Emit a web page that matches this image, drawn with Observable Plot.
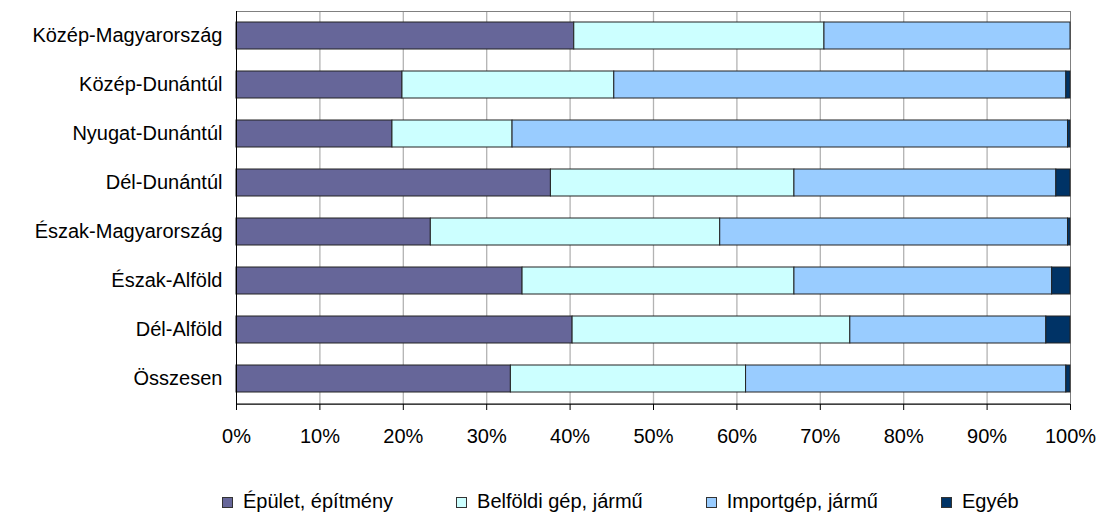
<!DOCTYPE html>
<html><head><meta charset="utf-8">
<script src="https://cdn.jsdelivr.net/npm/d3@7"></script>
<script src="https://cdn.jsdelivr.net/npm/@observablehq/plot@0.6"></script>
<style>
body{margin:0;background:#fff;font-family:"Liberation Sans",Arial,sans-serif;}
#legend{display:flex;gap:63px;padding-left:222px;padding-top:31px;height:52px;box-sizing:border-box;font-size:20px;line-height:20px;color:#000;white-space:nowrap}
.sw{display:inline-block;width:9px;height:9px;border:1px solid #333;margin-right:10px;vertical-align:baseline}
</style></head><body>
<div id="chart"></div><div id="legend"></div>
<script>
const regions = ["Közép-Magyarország","Közép-Dunántúl","Nyugat-Dunántúl","Dél-Dunántúl","Észak-Magyarország","Észak-Alföld","Dél-Alföld","Összesen"];
const seriesNames = ["Épület, építmény","Belföldi gép, jármű","Importgép, jármű","Egyéb"];
const epulet    = [40.5, 19.9, 18.7, 37.7, 23.3, 34.3, 40.3, 32.9];
const belfoldi  = [30.0, 25.4, 14.4, 29.2, 34.7, 32.6, 33.3, 28.2];
const importgep = [29.5, 54.2, 66.6, 31.4, 41.7, 30.9, 23.5, 38.4];
const egyeb     = [0.0,  0.5,  0.3,  1.7,  0.3,  2.2,  2.9,  0.5];
const colors = ["#666699","#CCFFFF","#99CCFF","#003366"];
const xTicks = [0,10,20,30,40,50,60,70,80,90,100];

const seriesValues = [epulet, belfoldi, importgep, egyeb];
const data = [];
regions.forEach((r,i)=>seriesValues.forEach((s,j)=>{
  if (s[i] > 0) data.push({region:r, series:seriesNames[j], value:s[i]});
}));

const font = '"Liberation Sans", Arial, sans-serif';
const bottomLine = (index, scales, values, dims) => {
  const y = dims.height - dims.marginBottom;
  return d3.create("svg:line")
    .attr("x1", dims.marginLeft).attr("x2", dims.width - dims.marginRight)
    .attr("y1", y).attr("y2", y).attr("stroke", "#000").node();
};

const plot = Plot.plot({
  width: 1100, height: 460,
  marginTop: 11, marginBottom: 56, marginLeft: 236, marginRight: 30,
  style: {fontFamily: font, fontSize: "20px", color: "#000", background: "#fff", overflow: "visible"},
  x: {domain: [0,100], ticks: xTicks, tickFormat: d => d + "%", label: null},
  y: {domain: regions, paddingInner: 0.44, paddingOuter: 0.22, label: null},
  color: {domain: seriesNames, range: colors},
  marks: [
    Plot.ruleX(xTicks.slice(1, -1), {stroke: "#b3b3b3", strokeWidth: 1.3}),
    Plot.frame({stroke: "#808080"}),
    Plot.barX(data, {x: "value", y: "region", fill: "series", stroke: "#222", strokeWidth: 1}),
    Plot.ruleX([0], {stroke: "#000"}),
    bottomLine,
    Plot.axisX({ticks: xTicks, tickSize: 6, tickPadding: 18, tickFormat: d => d + "%", fontSize: 20, label: null}),
    Plot.axisY({tickSize: 0, tickPadding: 14, fontSize: 20, label: null})
  ]
});
document.getElementById("chart").appendChild(plot);

const legend = document.getElementById("legend");
seriesNames.forEach((name, i) => {
  const item = document.createElement("span");
  const sw = document.createElement("span");
  sw.className = "sw";
  sw.style.background = colors[i];
  item.appendChild(sw);
  item.appendChild(document.createTextNode(name));
  legend.appendChild(item);
});
</script>
</body></html>
